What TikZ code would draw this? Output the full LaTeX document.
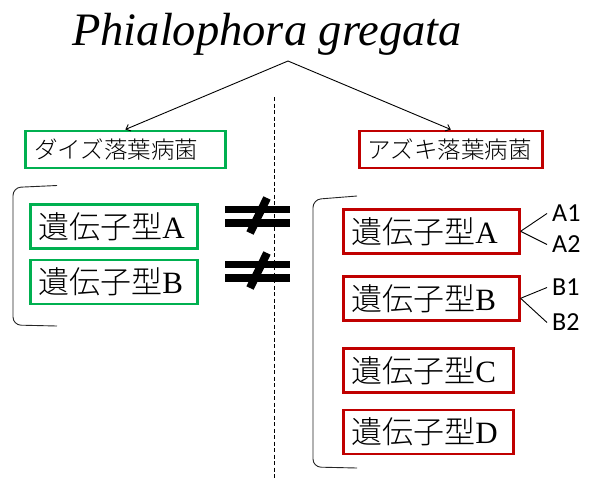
\documentclass[tikz,border=0pt]{standalone}
\usepackage{fontspec}
\setmainfont{Liberation Serif}
\newfontfamily\cjk{Noto Sans CJK JP Light}
\newfontfamily\calib{Carlito}
\usetikzlibrary{arrows.meta}
\definecolor{boxgreen}{RGB}{0,176,80}
\definecolor{boxred}{RGB}{192,0,0}
\tikzset{
  framebox/.style={draw=#1, line width=2.6pt, inner ysep=0pt, align=left, anchor=north west},
  topbox/.style={framebox=#1, font=\cjk\fontsize{23.5}{25}\selectfont, minimum height=37pt},
  genebox/.style={framebox=#1, inner xsep=8pt, font=\fontsize{31}{33}\selectfont, minimum height=44pt},
  sublabel/.style={font=\calib\fontsize{26}{26}\selectfont, inner xsep=5pt, inner ysep=0pt, anchor=west},
  thinline/.style={line width=0.9pt, black},
  arrowline/.style={thinline, -{Straight Barb[length=4pt,width=7pt]}},
  bracketline/.style={line width=0.9pt, black!85, rounded corners=8pt},
  neqsign/.pic={
    \fill[black] (-32.5,-10.5) rectangle (32.5,-3.5);
    \fill[black] (-32.5,2.5) rectangle (32.5,10.5);
    \draw[black, line width=8pt] (9.5,-18.5) -- (-7.5,16.5);
  }
}
\begin{document}
\begin{tikzpicture}[x=1pt,y=-1pt]
\useasboundingbox (0,0) rectangle (591,480);

% title
\node[font=\itshape\fontsize{46.5}{50}\selectfont, anchor=base, inner sep=0pt] (title) at (267,45) {Phialophora gregata};
\coordinate (apex) at (288,61);

% top category boxes
\node[topbox=boxgreen, inner xsep=9pt, text width=182pt] (gtop) at (24,129.5) {\cjk ダイズ落葉病菌};
\node[topbox=boxred, inner xsep=8pt, text width=167pt] (rtop) at (358,129.5) {\cjk アズキ落葉病菌};

\draw[arrowline] (apex) -- (gtop.north);
\draw[arrowline] (apex) -- (rtop.north);

% dashed divider
\coordinate (dtop) at (274,97);
\coordinate (dbot) at (274,478);
\draw[line width=0.9pt, dash pattern=on 4pt off 2.5pt] (dtop) -- (dbot);

% brackets
\draw[bracketline] (57,185.5) -- (13,187.5) -- (13,325) -- (57,326);
\draw[bracketline] (357,196) -- (313,199.5) -- (313,467) -- (357,468);

% green genotype boxes
\node[genebox=boxgreen, text width=151pt] (gA) at (29,203) {{\cjk 遺伝子型}A};
\node[genebox=boxgreen, text width=151pt] (gB) at (29,258.5) {{\cjk 遺伝子型}B};

% red genotype boxes
\node[genebox=boxred, text width=160pt] (rA) at (342,208) {{\cjk 遺伝子型}A};
\node[genebox=boxred, text width=160pt] (rB) at (342,275) {{\cjk 遺伝子型}B};
\node[genebox=boxred, text width=154pt] (rC) at (342,347) {{\cjk 遺伝子型}C};
\node[genebox=boxred, text width=154pt] (rD) at (342,408.5) {{\cjk 遺伝子型}D};

% not-equal signs
\pic at (257.5,216.5) {neqsign};
\pic at (257.5,271.5) {neqsign};

% sub-genotype labels
\node[sublabel] (a1) at (547,213.5) {A1};
\node[sublabel] (a2) at (547,244.5) {A2};
\node[sublabel] (b1) at (547,287.5) {B1};
\node[sublabel] (b2) at (547,322.5) {B2};
\draw[thinline] (rA.east) -- (a1.west);
\draw[thinline] (rA.east) -- (a2.west);
\draw[thinline] (rB.east) -- (b1.west);
\draw[thinline] (rB.east) -- (b2.west);
\end{tikzpicture}
\end{document}
